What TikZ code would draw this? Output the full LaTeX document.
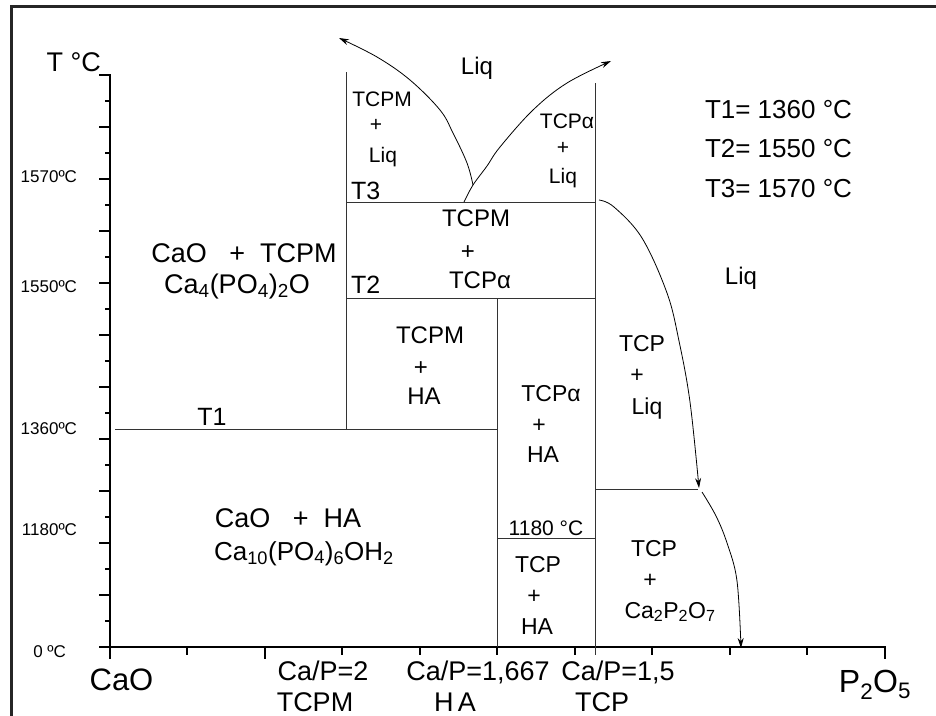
\documentclass[tikz,border=0pt]{standalone}
\usepackage{fontspec}
\setmainfont{Liberation Sans}
\usetikzlibrary{arrows.meta}
\newcommand\fsz[1]{\fontsize{#1}{#1}\selectfont}
\begin{document}
\begin{tikzpicture}[x=1pt,y=-1pt,
  lbl/.style={anchor=base,inner sep=0pt,outer sep=0pt,text=black},
  phase/.style={draw=black!80,line width=1pt},
  axisl/.style={draw=black,line width=2.2pt},
  frame/.style={draw=black!85,line width=2.5pt},
  bcurve/.style={draw=black,line width=0.8pt,-{Stealth[length=10pt,width=6pt]}},
  ntcurve/.style={draw=black,line width=0.8pt}]
\useasboundingbox (0,0) rectangle (936,715);
\fill[white] (0,0) rectangle (936,715);
% frame
\draw[frame] (11.5,716) -- (11.5,6.5) -- (937,6.5);
% y ticks
\foreach \i in {0,...,22}{
  \pgfmathsetmacro\yy{75+26*\i}
  \ifodd\i
    \draw[line width=2pt] (105,\yy) -- (110,\yy);
  \else
    \draw[line width=2pt] (99,\yy) -- (110,\yy);
  \fi
}
% x ticks
\foreach \i in {0,...,10}{
  \pgfmathsetmacro\xx{109.5+77.55*\i}
  \pgfmathtruncatemacro\lng{(\i==0)||(\i==2)||(\i==10)}
  \ifnum\lng=1
    \draw[line width=2pt] (\xx,647) -- (\xx,659);
  \else
    \draw[line width=2pt] (\xx,647) -- (\xx,655);
  \fi
}
% axes
\coordinate (ytop) at (110,74);
\coordinate (orig) at (110,647);
\coordinate (xleft) at (99,647);
\coordinate (xend) at (885.5,647);
\draw[axisl] (ytop) -- (orig);
\draw[axisl] (xleft) -- (xend);
% phase lines
\coordinate (a1) at (346,72);  \coordinate (a2) at (346,429);
\coordinate (b1) at (595,83);  \coordinate (b2) at (595,655);
\coordinate (c1) at (497,298); \coordinate (c2) at (497,647);
\coordinate (t3l) at (346,202); \coordinate (t3r) at (595,202);
\coordinate (t2l) at (346,298); \coordinate (t2r) at (595,298);
\coordinate (t1l) at (115,429); \coordinate (t1r) at (497,429);
\coordinate (hl) at (497,538); \coordinate (hr) at (595,538);
\coordinate (gl) at (595,489); \coordinate (gr) at (698,489);
\draw[phase] (a1) -- (a2);
\draw[phase] (b1) -- (b2);
\draw[phase] (c1) -- (c2);
\draw[phase] (t3l) -- (t3r);
\draw[phase] (t2l) -- (t2r);
\draw[phase] (t1l) -- (t1r);
\draw[phase] (hl) -- (hr);
\draw[phase] (gl) -- (gr);
% curves
\draw[bcurve] plot[smooth,tension=0.6] coordinates {(464,202) (473,185) (487,166) (500,147) (533,110) (567,83) (611,61)};
\draw[bcurve] plot[smooth,tension=0.6] coordinates {(473,185) (467,163) (453,133) (440,110) (410,80) (377,57) (339,38)};
\draw[bcurve] plot[smooth,tension=0.6] coordinates {(599,200) (614,207) (642,238) (667,293) (679,341) (690,402) (699,488)};
\draw[bcurve] plot[smooth,tension=0.6] coordinates {(702,492) (716,516) (727,543) (737,581) (741,648)};
% axis labels
\node[lbl,anchor=base east,font=\fsz{27}] (tlab) at (101,71) {T °C};
\node[lbl,anchor=base east,font=\fsz{17}] (y1570) at (77,182) {1570ºC};
\node[lbl,anchor=base east,font=\fsz{17}] (y1550) at (77,292) {1550ºC};
\node[lbl,anchor=base east,font=\fsz{17}] (y1360) at (77,434) {1360ºC};
\node[lbl,anchor=base east,font=\fsz{17}] (y1180) at (77,535) {1180ºC};
\node[lbl,anchor=base east,font=\fsz{17}] (y0) at (66,657) {0 ºC};
% legend
\node[lbl,anchor=base west,font=\fsz{26}] (leg1) at (705,118) {T1= 1360 °C};
\node[lbl,anchor=base west,font=\fsz{26}] (leg2) at (705,157) {T2= 1550 °C};
\node[lbl,anchor=base west,font=\fsz{26}] (leg3) at (705,197) {T3= 1570 °C};
% region labels
\node[lbl,font=\fsz{24}] (liqtop) at (477,74) {Liq};
\node[lbl,font=\fsz{21}] (r1a) at (382,106) {TCPM};
\node[lbl,font=\fsz{21}] (r1b) at (376,131) {+};
\node[lbl,font=\fsz{21}] (r1c) at (383,162) {Liq};
\node[lbl,anchor=base west,font=\fsz{25}] (t3) at (351,199) {T3};
\node[lbl,font=\fsz{21}] (r2a) at (567,128) {TCPα};
\node[lbl,font=\fsz{21}] (r2b) at (563,154) {+};
\node[lbl,font=\fsz{21}] (r2c) at (563,183) {Liq};
\node[lbl,font=\fsz{24}] (r3a) at (476,226) {TCPM};
\node[lbl,font=\fsz{24}] (r3b) at (468,259) {+};
\node[lbl,font=\fsz{24}] (r3c) at (480,288) {TCPα};
\node[lbl,anchor=base west,font=\fsz{25}] (t2) at (351,293) {T2};
\node[lbl,font=\fsz{27}] (r4a) at (244,262) {CaO \ \ +\ \ TCPM};
\node[lbl,font=\fsz{27}] (r4b) at (237,293) {Ca\textsubscript{4}(PO\textsubscript{4})\textsubscript{2}O};
\node[lbl,font=\fsz{25}] (t1) at (212,425) {T1};
\node[lbl,font=\fsz{24}] (r5a) at (430,343) {TCPM};
\node[lbl,font=\fsz{24}] (r5b) at (421,375) {+};
\node[lbl,font=\fsz{24}] (r5c) at (424,404) {HA};
\node[lbl,font=\fsz{23}] (r6a) at (551,401) {TCPα};
\node[lbl,font=\fsz{23}] (r6b) at (539,432) {+};
\node[lbl,font=\fsz{23}] (r6c) at (543,462) {HA};
\node[lbl,font=\fsz{21}] (h1180) at (546,535) {1180 °C};
\node[lbl,font=\fsz{23}] (r7a) at (538,572) {TCP};
\node[lbl,font=\fsz{23}] (r7b) at (534,603) {+};
\node[lbl,font=\fsz{23}] (r7c) at (537,634) {HA};
\node[lbl,font=\fsz{23}] (r8a) at (654,556) {TCP};
\node[lbl,font=\fsz{23}] (r8b) at (650,587) {+};
\node[lbl,font=\fsz{23}] (r8c) at (670,618) {Ca\textsubscript{2}P\textsubscript{2}O\textsubscript{7}};
\node[lbl,font=\fsz{23}] (r9a) at (642,351) {TCP};
\node[lbl,font=\fsz{23}] (r9b) at (637,382) {+};
\node[lbl,font=\fsz{23}] (r9c) at (647,414) {Liq};
\node[lbl,font=\fsz{24}] (liqr) at (741,284) {Liq};
\node[lbl,font=\fsz{27}] (r10a) at (288,527) {CaO \ \ +\ \ HA};
\node[lbl,font=\fsz{26}] (r10b) at (304,560) {Ca\textsubscript{10}(PO\textsubscript{4})\textsubscript{6}OH\textsubscript{2}};
% x axis labels
\node[lbl,font=\fsz{31}] (xcao) at (121.5,690) {CaO};
\node[lbl,font=\fsz{27}] (x2a) at (323,680) {Ca/P=2};
\node[lbl,font=\fsz{27}] (x2b) at (315,711) {TCPM};
\node[lbl,font=\fsz{27}] (x3a) at (478,680) {Ca/P=1,667};
\node[lbl,font=\fsz{27}] (x3b) at (455,711) {H\,A};
\node[lbl,font=\fsz{27}] (x4a) at (618,680) {Ca/P=1,5};
\node[lbl,font=\fsz{27}] (x4b) at (602,711) {TCP};
\node[lbl,font=\fsz{32}] (xp) at (875,692) {P\textsubscript{2}O\textsubscript{5}};
\end{tikzpicture}
\end{document}
